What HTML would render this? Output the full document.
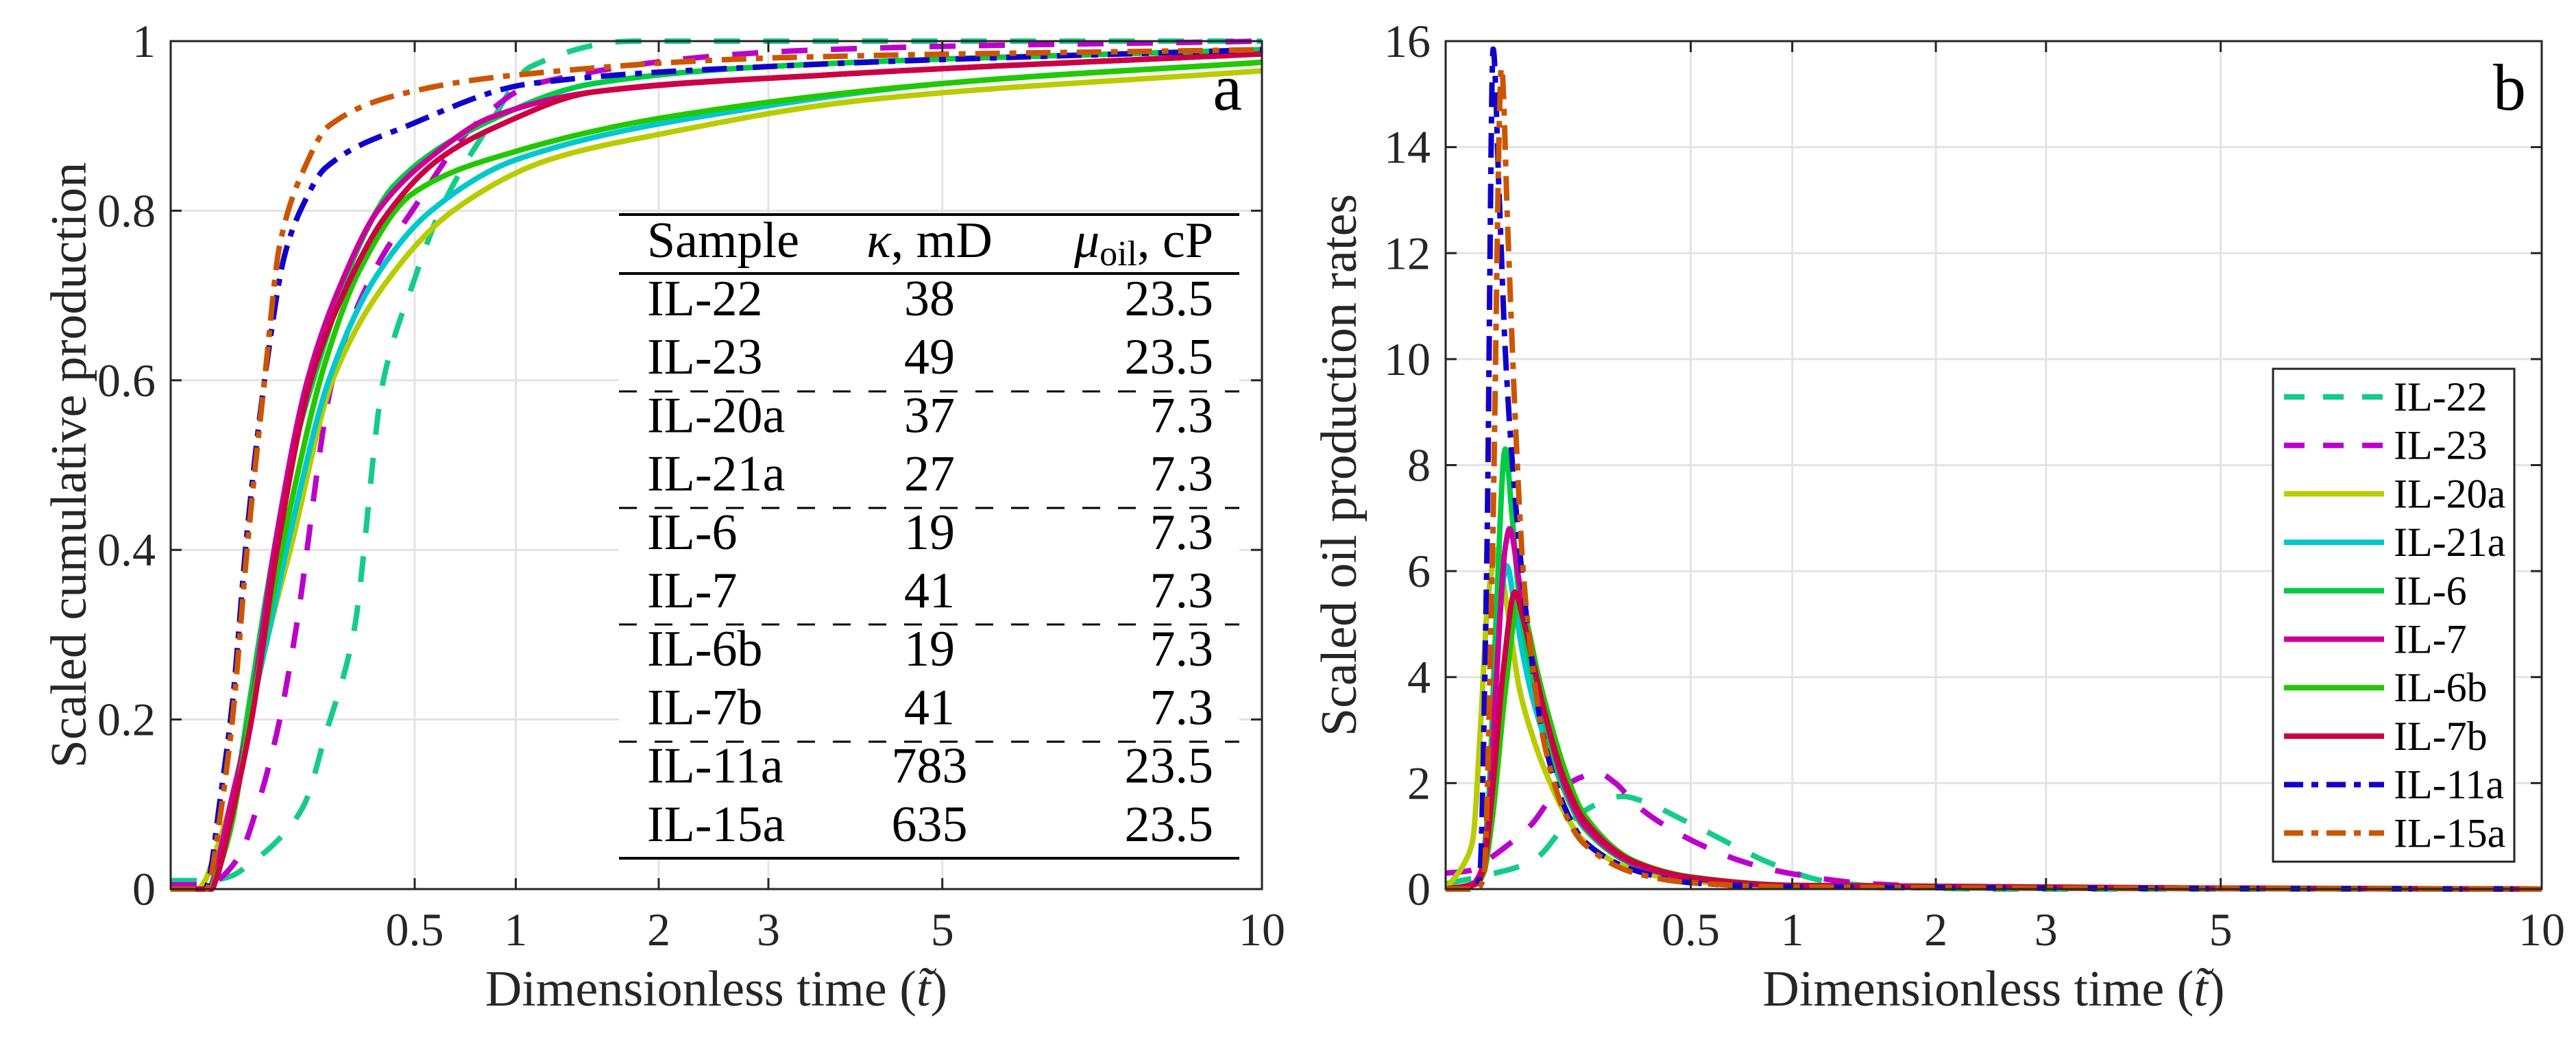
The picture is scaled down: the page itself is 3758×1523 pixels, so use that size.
<!DOCTYPE html>
<html><head><meta charset="utf-8"><style>
html,body{margin:0;padding:0;background:#fff;}
svg{display:block;}
text{font-family:"Liberation Serif","DejaVu Serif",serif;}
</style></head><body>
<svg id="fig" width="3758" height="1523" viewBox="0 0 3758 1523" xmlns="http://www.w3.org/2000/svg" font-family="Liberation Serif, DejaVu Serif, serif">
<defs>
<clipPath id="clipA"><rect x="249" y="50" width="1592" height="1255"/></clipPath>
<clipPath id="clipB"><rect x="2109" y="50" width="1599" height="1255"/></clipPath>
</defs>
<g id="panelA"></g>
<g id="panelB"></g>
</svg>
<script>
// ---- shared
const names = ["IL-22","IL-23","IL-20a","IL-21a","IL-6","IL-7","IL-6b","IL-7b","IL-11a","IL-15a"];
const colors = ["#14cc88","#bb00cc","#b8cc00","#00c8cc","#00cc44","#cc0099","#22c800","#cc0044","#1100cc","#cc5500"];
const styles = ["dash","dash","solid","solid","solid","solid","solid","solid","dashdot","dashdot"];
const xTicks = [0.5,1,2,3,5,10];
const xTickLabels = ["0.5","1","2","3","5","10"];
const yTicksA = [0,0.2,0.4,0.6,0.8,1];
const yTickLabelsA = ["0","0.2","0.4","0.6","0.8","1"];
const yTicksB = [0,2,4,6,8,10,12,14,16];
const yTickLabelsB = ["0","2","4","6","8","10","12","14","16"];

// ---- panel a: cumulative production
const tA0=[0,.012,.03,.053,.1,.15,.2,.28,.38,.5,.61,.85,1.09,1.8,10];
const yA0=[.01,.01,.015,.03,.06,.1,.18,.3,.6,.72,.8,.9,.97,1,1];
const tA1=[0,.012,.018,.04,.064,.1,.13,.22,.35,.49,.77,1.12,3.6,10];
const yA1=[.005,.005,.01,.04,.1,.2,.3,.6,.73,.8,.9,.95,.99,1];
const tA2=[0,.006,.01,.014,.03,.052,.08,.12,.22,.4,.67,1.2,2,4,10];
const yA2=[0,0,.01,.03,.1,.2,.3,.4,.6,.72,.8,.86,.89,.93,.965];
const tA3=[0,.012,.015,.03,.052,.08,.12,.21,.35,.57,1,2.8,5,10];
const yA3=[0,0,.01,.08,.2,.3,.42,.6,.72,.8,.86,.92,.95,.975];
const tA4=[0,.014,.017,.03,.052,.08,.12,.19,.3,.42,.8,1.5,3,10];
const yA4=[0,0,.01,.08,.22,.36,.5,.63,.76,.83,.9,.95,.97,.99];
const tA5=[0,.013,.015,.03,.052,.09,.157,.25,.36,.6,.86,1.5,3.6,10];
const yA5=[0,0,.01,.1,.2,.4,.6,.72,.8,.87,.91,.94,.96,.985];
const tA6=[0,.013,.016,.03,.052,.08,.12,.2,.3,.49,1,2.05,5,10];
const yA6=[0,0,.01,.07,.2,.32,.45,.62,.73,.82,.87,.91,.95,.975];
const tA7=[0,.014,.017,.03,.055,.095,.165,.26,.38,.6,.9,1.5,3.6,10];
const yA7=[0,0,.01,.08,.2,.4,.6,.71,.79,.86,.9,.94,.96,.985];
const tA8=[0,.01,.012,.02,.032,.049,.074,.11,.15,.2,.47,1.09,3,10];
const yA8=[0,0,.01,.1,.22,.42,.6,.75,.81,.85,.9,.95,.97,.99];
const tA9=[0,.011,.013,.02,.032,.049,.074,.1,.15,.21,.48,1,3,10];
const yA9=[0,0,.01,.08,.2,.4,.6,.76,.85,.9,.94,.96,.98,.99];

// ---- panel b: production rates
const tB0=[0,.012,.02,.04,.07,.12,.19,.26,.35,.45,.56,.7,.87,1.2,1.6,2.5,10];
const yB0=[.1,.25,.3,.4,.6,1.2,1.6,1.75,1.6,1.35,1.1,.8,.5,.15,.05,0,0];
const tB1=[0,.005,.012,.03,.06,.1,.15,.19,.24,.3,.4,.56,.75,.98,1.5,2.5,10];
const yB1=[.3,.35,.5,.8,1.2,1.8,2.1,2.2,2.0,1.6,1.2,.8,.5,.3,.1,.02,0];
const tB2=[0,.003,.006,.01,.015,.022,.03,.045,.06,.08,.12,.16,.3,.5,1,10];
const yB2=[0,.5,.9,3,5.5,6.4,5.5,3.8,3,2.3,1.4,.9,.35,.15,.05,0];
const tB3=[0,.006,.01,.015,.022,.031,.04,.05,.065,.08,.12,.16,.3,.5,1,10];
const yB3=[0,.1,.3,1.5,4.5,6.1,5.3,4.4,3.5,2.9,1.8,1.2,.48,.2,.06,0];
const tB4=[0,.006,.01,.015,.021,.0296,.036,.045,.06,.08,.12,.16,.3,.5,1,10];
const yB4=[0,.1,.3,1.5,5,8.3,7.2,5.5,4.2,3.2,1.8,1.15,.45,.2,.06,0];
const tB5=[0,.006,.01,.015,.021,.03,.034,.045,.06,.08,.12,.16,.3,.5,1,10];
const yB5=[0,.1,.3,1.2,3.8,6.5,6.8,5.8,4.5,3.4,1.9,1.2,.47,.2,.06,0];
const tB6=[0,.008,.012,.018,.03,.044,.055,.07,.09,.12,.16,.3,.5,1,10];
const yB6=[0,.1,.3,1.3,3.8,5.4,5.0,4.1,3.2,2.2,1.4,.52,.23,.07,0];
const tB7=[0,.008,.012,.018,.028,.04,.05,.065,.08,.12,.16,.3,.5,1,10];
const yB7=[0,.1,.4,1.8,4.2,5.6,5.1,4.2,3.4,2,1.3,.5,.22,.07,0];
const tB8=[0,.006,.0095,.014,.0188,.024,.03,.045,.06,.079,.12,.16,.3,.5,1,10];
const yB8=[0,0,.2,6,15.85,13,10,6.5,4.5,2.9,1.5,.9,.35,.12,.04,0];
const tB9=[0,.008,.012,.018,.026,.032,.04,.05,.065,.08,.12,.16,.3,.5,1,10];
const yB9=[0,0,.2,6,15.5,12.5,9,6,4,2.8,1.4,.85,.3,.12,.04,0];

// table rows
const tableSamples = ["IL-22","IL-23","IL-20a","IL-21a","IL-6","IL-7","IL-6b","IL-7b","IL-11a","IL-15a"];
const tableKappa = ["38","49","37","27","19","41","19","41","783","635"];
const tableMu = ["23.5","23.5","7.3","7.3","7.3","7.3","7.3","7.3","23.5","23.5"];

const seriesA = [[tA0,yA0],[tA1,yA1],[tA2,yA2],[tA3,yA3],[tA4,yA4],[tA5,yA5],[tA6,yA6],[tA7,yA7],[tA8,yA8],[tA9,yA9]];
const seriesB = [[tB0,yB0],[tB1,yB1],[tB2,yB2],[tB3,yB3],[tB4,yB4],[tB5,yB5],[tB6,yB6],[tB7,yB7],[tB8,yB8],[tB9,yB9]];

const NS="http://www.w3.org/2000/svg";
const FF="Liberation Serif, DejaVu Serif, serif";
function mk(tag, attrs, parent){const e=document.createElementNS(NS,tag);for(const k in attrs)e.setAttribute(k,attrs[k]);if(tag==="text")e.setAttribute("font-family",FF);if(parent)parent.appendChild(e);return e;}
function dashFor(s){return s==="dash"?"38 34":(s==="dashdot"?"36 14 10 14":"none");}
// monotone cubic (Fritsch-Carlson) in screen space
function smoothPath(pts){
  const n=pts.length;
  const dx=[],sl=[];
  for(let i=0;i<n-1;i++){dx.push(pts[i+1][0]-pts[i][0]);sl.push(dx[i]>0?(pts[i+1][1]-pts[i][1])/dx[i]:0);}
  const m=new Array(n);
  m[0]=sl[0];m[n-1]=sl[n-2];
  for(let i=1;i<n-1;i++){
    if(sl[i-1]*sl[i]<=0)m[i]=0;
    else{const w1=2*dx[i]+dx[i-1],w2=dx[i]+2*dx[i-1];m[i]=(w1+w2)/(w1/sl[i-1]+w2/sl[i]);}
  }
  let d="M"+pts[0][0].toFixed(1)+","+pts[0][1].toFixed(1);
  for(let i=0;i<n-1;i++){
    const h=dx[i]/3;
    d+=" C"+(pts[i][0]+h).toFixed(1)+","+(pts[i][1]+m[i]*h).toFixed(1)+" "+(pts[i+1][0]-h).toFixed(1)+","+(pts[i+1][1]-m[i+1]*h).toFixed(1)+" "+pts[i+1][0].toFixed(1)+","+pts[i+1][1].toFixed(1);
  }
  return d;
}

function drawPanel(g, L, R, T, B, ymax, yTicks, yLabels, series, clip, ylabel, letter, letterX){
  const xs = t => L + Math.sqrt(t)/Math.sqrt(10)*(R-L);
  const ys = v => B - v/ymax*(B-T);
  const grid=mk("g",{},g);
  
  
  xTicks.forEach(t=>{mk("line",{x1:xs(t),x2:xs(t),y1:T,y2:B,stroke:"#e3e3e3","stroke-width":3},grid);});
  yTicks.forEach(v=>{mk("line",{x1:L,x2:R,y1:ys(v),y2:ys(v),stroke:"#e3e3e3","stroke-width":3},grid);});
  const sg=mk("g",{"clip-path":"url(#"+clip+")"},g);
  series.forEach((s,i)=>{
    const pts=s[0].map((t,j)=>[xs(t),ys(s[1][j])]);
    const p=mk("path",{d:smoothPath(pts),fill:"none",stroke:colors[i],"stroke-width":8,"stroke-dasharray":dashFor(styles[i]),"stroke-linejoin":"round"},sg);
    
    
  });
  const box=mk("rect",{x:L,y:T,width:R-L,height:B-T,fill:"none",stroke:"#262626","stroke-width":3},g);
  
  
  xTicks.forEach((t,i)=>{
    mk("line",{x1:xs(t),x2:xs(t),y1:B,y2:B-16,stroke:"#262626","stroke-width":3},g);
    mk("line",{x1:xs(t),x2:xs(t),y1:T,y2:T+16,stroke:"#262626","stroke-width":3},g);
    const tx=mk("text",{x:xs(t),y:B+82,"text-anchor":"middle","font-size":68,fill:"#262626"},g);
    tx.textContent=xTickLabels[i];
    
    
  });
  yTicks.forEach((v,i)=>{
    mk("line",{x1:L,x2:L+16,y1:ys(v),y2:ys(v),stroke:"#262626","stroke-width":3},g);
    mk("line",{x1:R,x2:R-16,y1:ys(v),y2:ys(v),stroke:"#262626","stroke-width":3},g);
    const tx=mk("text",{x:L-22,y:ys(v)+23,"text-anchor":"end","font-size":68,fill:"#262626"},g);
    tx.textContent=yLabels[i];
    
    
  });
  const xl=mk("text",{x:(L+R)/2,y:B+170,"text-anchor":"middle","font-size":74,fill:"#262626"},g);
  xl.innerHTML='Dimensionless time (<tspan font-style="italic">t̃</tspan>)';
  
  
  const yl=mk("text",{x:0,y:0,"text-anchor":"middle","font-size":74,fill:"#262626",transform:"translate("+ylabel[1]+","+((T+B)/2)+") rotate(-90)"},g);
  yl.textContent=ylabel[0];
  
  
  const lt=mk("text",{x:letterX,y:T+100,"text-anchor":"end","font-size":96,fill:"#000"},g);
  lt.textContent=letter;
  
  
}

const gA=document.getElementById("panelA");
const gB=document.getElementById("panelB");
drawPanel(gA,249,1841,60,1297,1,yTicksA,yTickLabelsA,seriesA,"clipA",["Scaled cumulative production",125],"a",1812);
drawPanel(gB,2109,3708,60,1297,16,yTicksB,yTickLabelsB,seriesB,"clipB",["Scaled oil production rates",1978],"b",3685);

const tg=mk("g",{},gA);


mk("rect",{x:903,y:313,width:905,height:940,fill:"#fff"},tg);
mk("line",{x1:903,x2:1808,y1:313,y2:313,stroke:"#000","stroke-width":4},tg);
mk("line",{x1:903,x2:1808,y1:399,y2:399,stroke:"#000","stroke-width":4},tg);
mk("line",{x1:903,x2:1808,y1:1252,y2:1252,stroke:"#000","stroke-width":4},tg);
[571,741,911,1082].forEach(y=>{mk("line",{x1:903,x2:1808,y1:y,y2:y,stroke:"#000","stroke-width":3,"stroke-dasharray":"26 26"},tg);});
const h1=mk("text",{x:944,y:375,"font-size":74},tg);h1.textContent="Sample";


const h2=mk("text",{x:1356,y:375,"font-size":74,"text-anchor":"middle"},tg);
h2.innerHTML='<tspan font-style="italic">κ</tspan>, mD';


const h3=mk("text",{x:1770,y:375,"font-size":74,"text-anchor":"end"},tg);
h3.innerHTML='<tspan font-style="italic">μ</tspan><tspan font-size="52" dy="12">oil</tspan><tspan dy="-12">, cP</tspan>';


tableSamples.forEach((s,i)=>{
  const y=460+i*85.2;
  const a=mk("text",{x:944,y:y,"font-size":74},tg);a.textContent=s;
  
  
  const b=mk("text",{x:1356,y:y,"font-size":74,"text-anchor":"middle"},tg);b.textContent=tableKappa[i];
  
  
  const c=mk("text",{x:1770,y:y,"font-size":74,"text-anchor":"end"},tg);c.textContent=tableMu[i];
  
  
});

const lg=mk("g",{},gB);


mk("rect",{x:3316,y:538,width:352,height:719,fill:"#fff",stroke:"#262626","stroke-width":3},lg);
names.forEach((n,i)=>{
  const y=579+i*70.7;
  const e=mk("g",{},lg);
  
  
  mk("line",{x1:3332,x2:3478,y1:y,y2:y,stroke:colors[i],"stroke-width":8,"stroke-dasharray":styles[i]==="solid"?"none":(styles[i]==="dash"?"30 27":"28 12 10 12")},e);
  const t=mk("text",{x:3492,y:y+20,"font-size":60,fill:"#000"},e);t.textContent=n;
});
</script>
</body></html>
